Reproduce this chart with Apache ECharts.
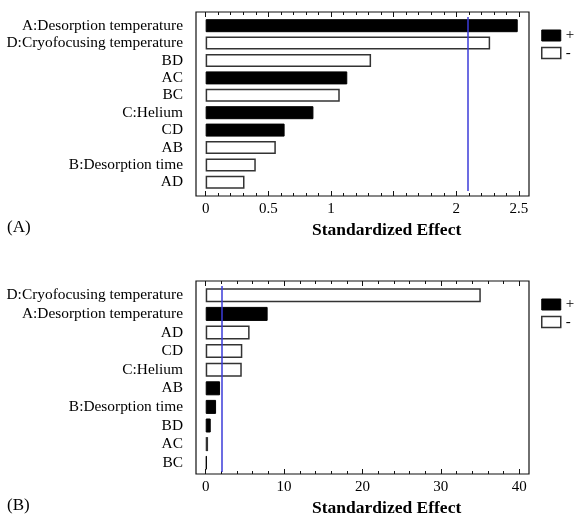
<!DOCTYPE html>
<html>
<head>
<meta charset="utf-8">
<script src="https://cdn.jsdelivr.net/npm/echarts@6/dist/echarts.min.js"></script>
<style>
  html, body { margin: 0; padding: 0; background: #fff; }
  #chart { width: 578px; height: 516px; }
</style>
</head>
<body>
<div id="chart"></div>
<script>
// Panel (A): standardized effects, ordered largest first
const factorsA = ['A:Desorption temperature', 'D:Cryofocusing temperature', 'BD', 'AC', 'BC',
                  'C:Helium', 'CD', 'AB', 'B:Desorption time', 'AD'];
const effectsA = [2.49, 2.27, 1.32, 1.13, 1.07, 0.86, 0.63, 0.56, 0.40, 0.31];
const signsA   = ['+', '-', '-', '+', '-', '+', '+', '-', '-', '-'];
const limitA   = 2.086;
const tickLabelsA = [0, 0.5, 1, 2, 2.5];

// Panel (B)
const factorsB = ['D:Cryofocusing temperature', 'A:Desorption temperature', 'AD', 'CD', 'C:Helium',
                  'AB', 'B:Desorption time', 'BD', 'AC', 'BC'];
const effectsB = [35.1, 7.9, 5.6, 4.67, 4.6, 1.83, 1.32, 0.64, 0.3, 0.15];
const signsB   = ['-', '+', '-', '-', '-', '+', '+', '+', '-', '+'];
const limitB   = 2.05;
const tickLabelsB = [0, 10, 20, 30, 40];

const SERIF = '"Liberation Serif", "Times New Roman", serif';
const INK = '#111';

function steps(from, to, step) {
  const out = [];
  for (let v = from; v <= to + 1e-9; v += step) out.push(+v.toFixed(4));
  return out;
}

const panels = [
  { factors: factorsA, effects: effectsA, signs: signsA, limit: limitA, labels: tickLabelsA,
    major: [0, 0.5, 1, 1.5, 2, 2.5], minor: steps(0, 2.5, 0.1),
    min: -0.077, max: 2.58, frameTop: 12, frameH: 184, barTop: 17, barH: 174, barW: 13,
    legendTop: 28, titleTop: 221, tag: '(A)' },
  { factors: factorsB, effects: effectsB, signs: signsB, limit: limitB, labels: tickLabelsB,
    major: [0, 10, 20, 30, 40], minor: steps(0, 40, 2),
    min: -1.24, max: 41.25, frameTop: 281, frameH: 193, barTop: 286, barH: 186, barW: 14,
    legendTop: 297, titleTop: 499, tag: '(B)' }
];

const grid = [], xAxis = [], yAxis = [], series = [], legend = [], title = [];

panels.forEach((p) => {
  const gFrame = grid.length;
  grid.push({ left: 196, width: 333, top: p.frameTop, height: p.frameH,
              show: true, borderColor: INK, borderWidth: 1.2, backgroundColor: 'transparent' });
  const gBars = grid.length;
  grid.push({ left: 196, width: 333, top: p.barTop, height: p.barH });

  const tickAxis = (position, values, len, withLabels) => ({
    gridIndex: gFrame, type: 'value', position, min: p.min, max: p.max,
    axisLine: { show: false, onZero: false },
    splitLine: { show: false },
    axisTick: { show: true, inside: true, length: len, customValues: values,
                lineStyle: { color: INK, width: 1 } },
    axisLabel: withLabels
      ? { show: true, customValues: p.labels, margin: 6, color: '#000',
          fontFamily: SERIF, fontSize: 15 }
      : { show: false }
  });
  xAxis.push(tickAxis('bottom', p.major, 5, true));
  xAxis.push(tickAxis('bottom', p.minor, 3, false));
  xAxis.push(tickAxis('top', p.major, 5, false));
  xAxis.push(tickAxis('top', p.minor, 3, false));
  const xBars = xAxis.length;
  xAxis.push({ gridIndex: gBars, type: 'value', min: p.min, max: p.max, show: false });

  yAxis.push({ gridIndex: gFrame, type: 'value', show: false });
  const yBars = yAxis.length;
  yAxis.push({
    gridIndex: gBars, type: 'category', data: p.factors, inverse: true,
    axisLine: { show: false }, axisTick: { show: false }, splitLine: { show: false },
    axisLabel: { interval: 0, hideOverlap: false, color: '#000', fontFamily: SERIF,
                 fontSize: 15.4, margin: 13, padding: [3, 0, 0, 0] }
  });

  series.push({
    name: '+', type: 'bar', xAxisIndex: xBars, yAxisIndex: yBars,
    data: p.effects.map((v, i) => (p.signs[i] === '+' ? v : null)),
    barWidth: p.barW, barGap: '-100%',
    itemStyle: { color: '#000', borderColor: '#000', borderWidth: 1 },
    emphasis: { disabled: true }
  });
  series.push({
    name: '-', type: 'bar', xAxisIndex: xBars, yAxisIndex: yBars,
    data: p.effects.map((v, i) => (p.signs[i] === '-' ? v : null)),
    barWidth: p.barW, barGap: '-100%',
    itemStyle: { color: '#fff', borderColor: '#333', borderWidth: 1.5 },
    emphasis: { disabled: true },
    markLine: {
      silent: true, symbol: 'none', label: { show: false },
      lineStyle: { color: '#3b3bd8', width: 1.5, type: 'solid' },
      data: [{ xAxis: p.limit }]
    }
  });

  legend.push({
    orient: 'vertical', left: 541, top: p.legendTop, padding: 0,
    itemWidth: 19, itemHeight: 11, itemGap: 2.5, selectedMode: false,
    textStyle: { fontFamily: SERIF, fontSize: 15, lineHeight: 15, color: '#000' },
    data: [
      { name: '+', icon: 'rect', itemStyle: { color: '#000', borderColor: '#000', borderWidth: 1 } },
      { name: '-', icon: 'rect', itemStyle: { color: '#fff', borderColor: '#333', borderWidth: 1.5 } }
    ]
  });

  title.push({
    text: 'Standardized Effect', left: 312, top: p.titleTop, padding: 0,
    textStyle: { fontFamily: SERIF, fontSize: 17.5, fontWeight: 'bold', color: '#000' }
  });
  title.push({
    text: p.tag, left: 7, top: p.titleTop - 2, padding: 0,
    textStyle: { fontFamily: SERIF, fontSize: 17, fontWeight: 'normal', color: '#000' }
  });
});

const chart = echarts.init(document.getElementById('chart'), null, { renderer: 'canvas' });
chart.setOption({
  animation: false,
  backgroundColor: '#fff',
  grid, xAxis, yAxis, series, legend, title
});
</script>
</body>
</html>
